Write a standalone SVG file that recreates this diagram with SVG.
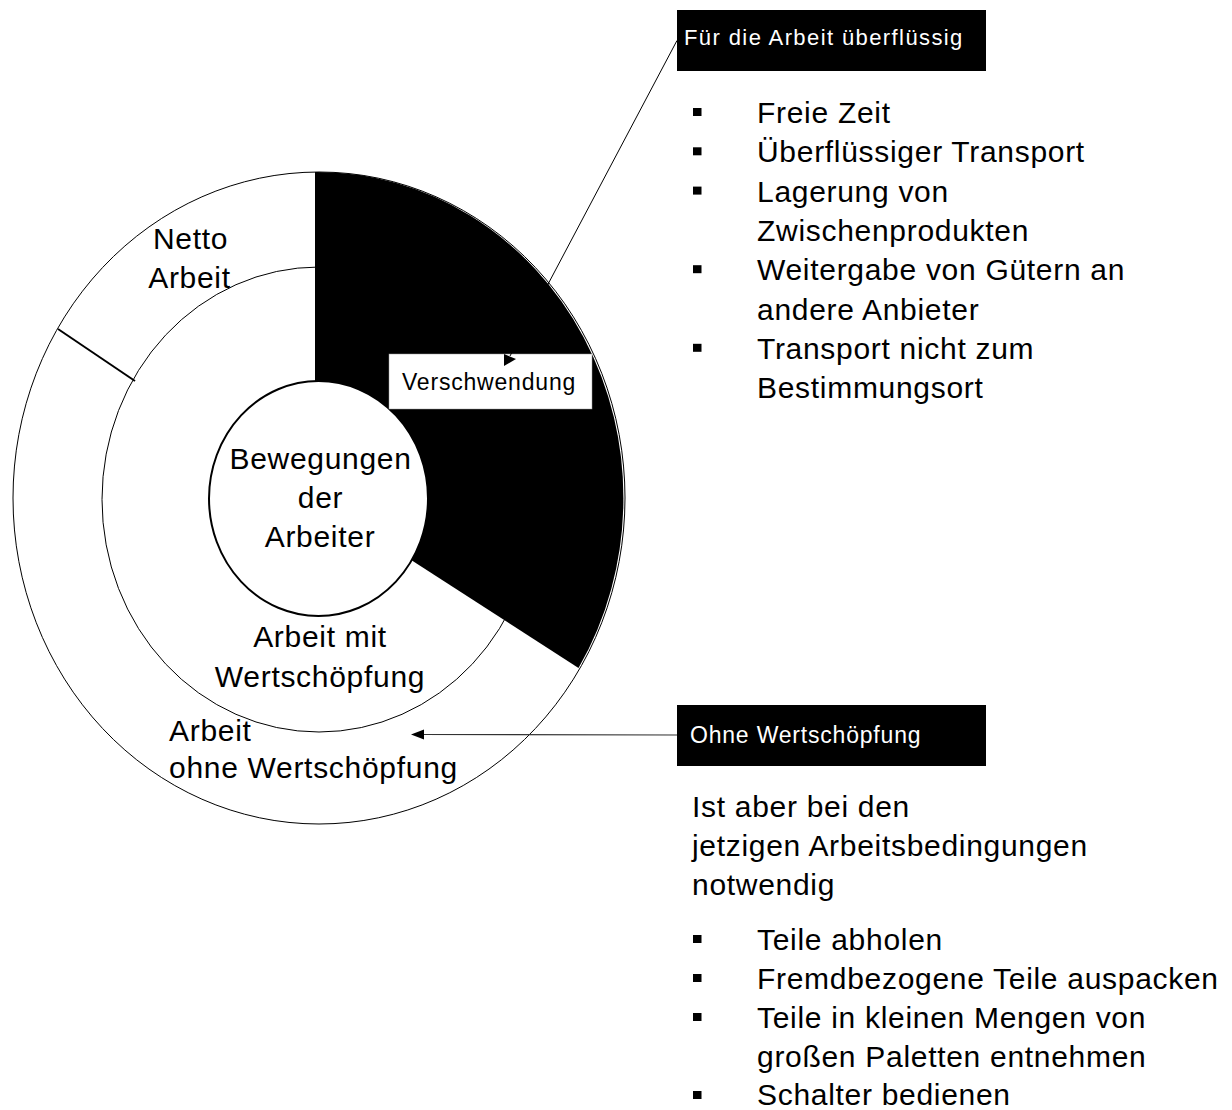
<svg xmlns="http://www.w3.org/2000/svg" width="1232" height="1110" viewBox="0 0 1232 1110">
  <style>
    text { font-family: "Liberation Sans", Arial, sans-serif; fill: #000; }
    .big { font-size: 30px; letter-spacing: 0.7px; }
    .mid { text-anchor: middle; }
    .tag { font-size: 23px; letter-spacing: 0.8px; }
    .inv { fill: #fff; }
    .ring { fill: none; stroke: #000; stroke-width: 1; }
    .bullet { fill: #000; }
  </style>
  <rect width="1232" height="1110" fill="#fff"/>

  <!-- concentric rings of the work breakdown -->
  <g id="ring-outer">
    <ellipse cx="319" cy="498" rx="306" ry="326" fill="#fff" stroke="#000" stroke-width="1"/>
  </g>
  <g id="ring-middle">
    <ellipse class="ring" cx="319" cy="499.5" rx="217" ry="232.5"/>
  </g>
  <g id="sector-waste">
    <path d="M315 498 L315 172 A306 326 0 0 1 578.5 668 Z" fill="#000"/>
  </g>
  <g id="separator">
    <line x1="58" y1="329" x2="135" y2="381" stroke="#000" stroke-width="2"/>
  </g>
  <g id="core">
    <ellipse cx="318.5" cy="498.5" rx="109.5" ry="117.5" fill="#fff" stroke="#000" stroke-width="2"/>
    <text class="big mid" x="320.5" y="469">Bewegungen</text>
    <text class="big mid" x="320.5" y="508">der</text>
    <text class="big mid" x="320" y="547">Arbeiter</text>
  </g>

  <g id="label-netto">
    <text class="big mid" x="190.5" y="249">Netto</text>
    <text class="big mid" x="189.5" y="288">Arbeit</text>
  </g>
  <g id="label-mit">
    <text class="big mid" x="320" y="647">Arbeit mit</text>
    <text class="big mid" x="320" y="687">Wertschöpfung</text>
  </g>
  <g id="label-ohne">
    <text class="big" x="169" y="741">Arbeit</text>
    <text class="big" x="169" y="778">ohne Wertschöpfung</text>
  </g>

  <g id="box-verschwendung">
    <rect x="389" y="354" width="203" height="55" fill="#fff" stroke="#999" stroke-width="0.5"/>
    <text class="tag" x="402" y="390">Verschwendung</text>
  </g>

  <!-- callout connectors -->
  <g id="connectors">
    <line x1="677" y1="40.5" x2="510" y2="356" stroke="#000" stroke-width="1"/>
    <polygon points="504,354 516,359 504,366" fill="#000"/>
    <line x1="677" y1="735" x2="423" y2="734.5" stroke="#333" stroke-width="1.2"/>
    <polygon points="411,734.5 424,729.5 424,739.5" fill="#000"/>
  </g>

  <g id="box-ueberfluessig">
    <rect x="677" y="10" width="309" height="61" fill="#000"/>
    <text class="tag inv" x="684" y="45" style="font-size:22px;letter-spacing:1.4px">Für die Arbeit überflüssig</text>
  </g>
  <g id="list-ueberfluessig">
    <rect class="bullet" x="693" y="108" width="8.5" height="8"/>
    <rect class="bullet" x="693" y="147.3" width="8.5" height="8"/>
    <rect class="bullet" x="693" y="186.6" width="8.5" height="8"/>
    <rect class="bullet" x="693" y="265.2" width="8.5" height="8"/>
    <rect class="bullet" x="693" y="343.8" width="8.5" height="8"/>
    <text class="big" x="757" y="123">Freie Zeit</text>
    <text class="big" x="757" y="162.3">Überflüssiger Transport</text>
    <text class="big" x="757" y="201.6">Lagerung von</text>
    <text class="big" x="757" y="240.9">Zwischenprodukten</text>
    <text class="big" x="757" y="280.2">Weitergabe von Gütern an</text>
    <text class="big" x="757" y="319.5">andere Anbieter</text>
    <text class="big" x="757" y="358.8">Transport nicht zum</text>
    <text class="big" x="757" y="398.1">Bestimmungsort</text>
  </g>

  <g id="box-ohne">
    <rect x="677" y="705" width="309" height="61" fill="#000"/>
    <text class="tag inv" x="690" y="743">Ohne Wertschöpfung</text>
  </g>
  <g id="list-ohne">
    <text class="big" x="692" y="817">Ist aber bei den</text>
    <text class="big" x="692" y="856">jetzigen Arbeitsbedingungen</text>
    <text class="big" x="692" y="895">notwendig</text>
    <rect class="bullet" x="693" y="935" width="8.5" height="8"/>
    <rect class="bullet" x="693" y="974" width="8.5" height="8"/>
    <rect class="bullet" x="693" y="1013" width="8.5" height="8"/>
    <rect class="bullet" x="693" y="1091" width="8.5" height="8"/>
    <text class="big" x="757" y="950">Teile abholen</text>
    <text class="big" x="757" y="989">Fremdbezogene Teile auspacken</text>
    <text class="big" x="757" y="1028">Teile in kleinen Mengen von</text>
    <text class="big" x="757" y="1067">großen Paletten entnehmen</text>
    <text class="big" x="757" y="1105">Schalter bedienen</text>
  </g>
</svg>
